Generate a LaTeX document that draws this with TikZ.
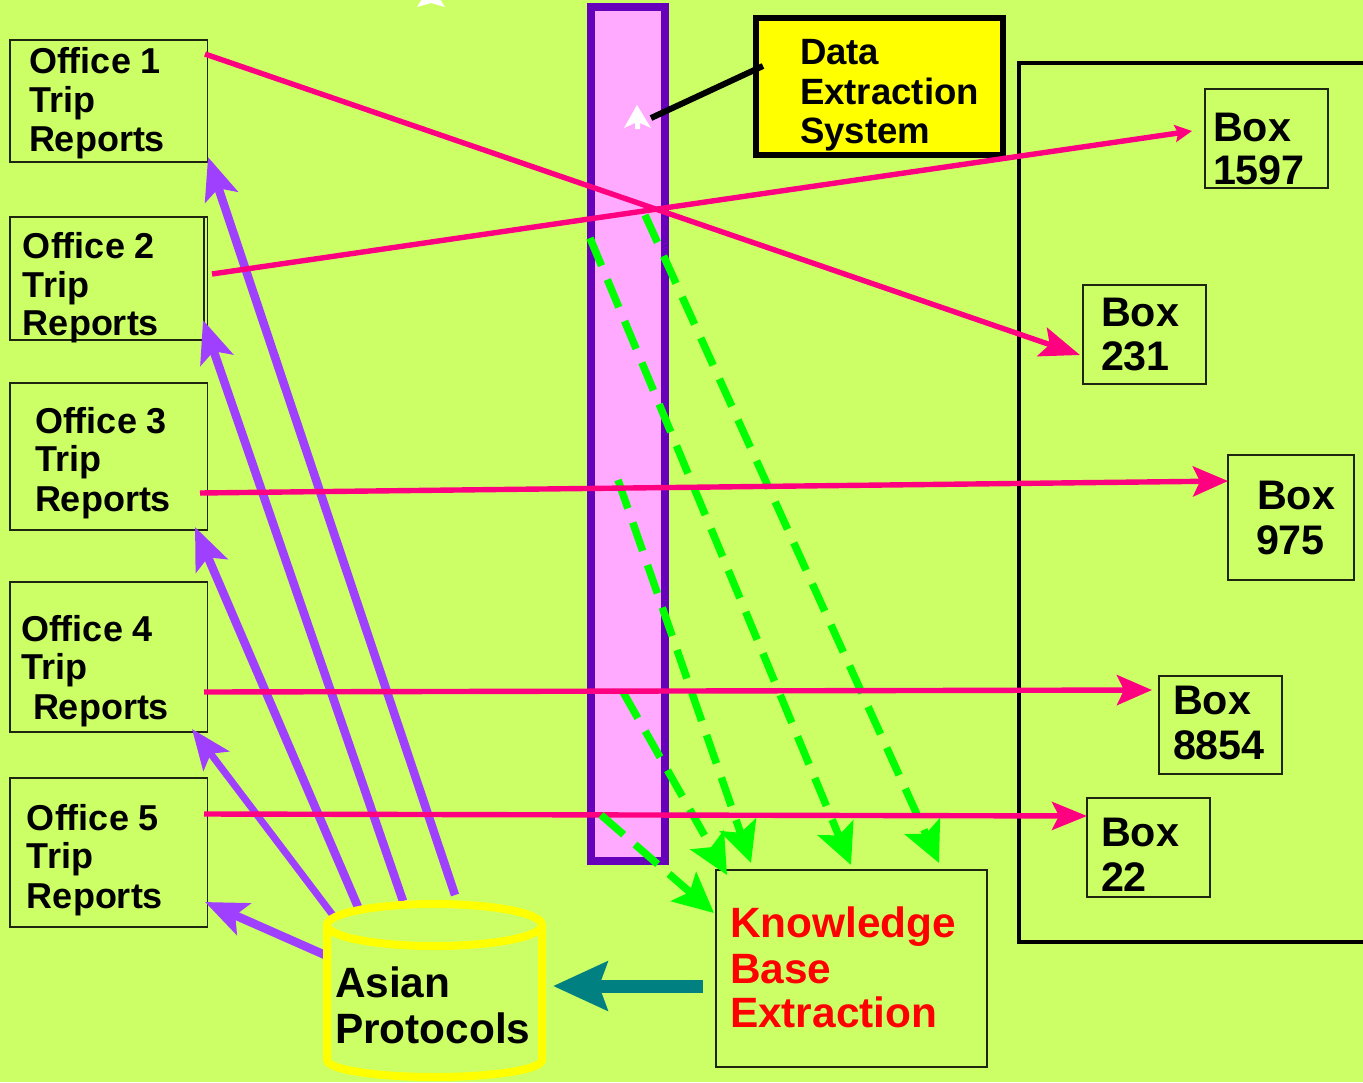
\documentclass[tikz,border=0pt]{standalone}
\usepackage{fontspec}
\setmainfont{Liberation Sans}
\usetikzlibrary{arrows.meta}
\definecolor{bgc}{HTML}{CCFF66}
\definecolor{barfill}{HTML}{FFAAFF}
\definecolor{barline}{HTML}{6600BB}
\definecolor{pinkc}{HTML}{FF0080}
\definecolor{purpc}{HTML}{A040FF}
\definecolor{greenc}{HTML}{00FF00}
\definecolor{tealc}{HTML}{008080}
\definecolor{yellowc}{HTML}{FFFF00}
\definecolor{redc}{HTML}{FF0000}
\tikzset{
  thinbox/.style={draw=black!85!bgc,line width=1.2pt,inner sep=0pt,outer sep=0pt},
  lbl/.style={anchor=base west,inner sep=0pt,outer sep=0pt,align=left,font=\bfseries\fontsize{#1}{#1}\selectfont},
  purp/.style={draw=purpc,line width=8.5pt,-{Stealth[length=42pt,width=34pt,inset=9pt]}},
  pinkar/.style={draw=pinkc,line width=5.4pt},
  greendash/.style={draw=greenc,line width=7.5pt,dash pattern=on 30pt off 15pt,-{Stealth[length=40pt,width=38pt,inset=8pt]}},
}
\newcommand{\rbox}[5]{\node[thinbox,minimum width={(#4)-(#2)},minimum height={(#5)-(#3)}] (#1) at ({((#2)+(#4))/2},{((#3)+(#5))/2}) {};}
\begin{document}
\begin{tikzpicture}[x=1pt,y=-1pt]
\useasboundingbox (0,0) rectangle (1363,1082);
\clip (0,0) rectangle (1363,1082);
\fill[bgc] (0,0) rectangle (1363,1082);
% large container
\node[draw=black,line width=4pt,inner sep=0pt,outer sep=0pt,minimum width=500pt,minimum height=879pt] (store) at (1269,502.5) {};
% bar
\node[draw=barline,fill=barfill,line width=8pt,inner sep=0pt,outer sep=0pt,minimum width=74pt,minimum height=854pt] (bar) at (628,434) {};
% white arrows
\fill[white] (431,-15) -- (445,7) -- (431,3) -- (417,7) -- cycle;
\fill[white] (637,105) -- (651,128) -- (640,123) -- (640,129) -- (635,129) -- (635,123) -- (624,128) -- cycle;
% office boxes
\rbox{office1}{10}{40}{207.5}{162}
\rbox{office2b}{10}{217}{207.5}{340}
\rbox{office2}{10}{217}{204}{340}
\rbox{office3}{10}{383}{207.5}{530}
\rbox{office4}{10}{582}{207.5}{732}
\rbox{office5}{10}{778}{207.5}{927}
% storage boxes
\rbox{b1597}{1205}{89}{1328}{188}
\rbox{b231}{1083}{285}{1206}{384}
\rbox{b975}{1228}{455}{1354}{580}
\rbox{b8854}{1159}{676}{1282}{774}
\rbox{b22}{1087}{798}{1210}{897}
\rbox{kbe}{716}{870}{987}{1067}
% data extraction box
\node[draw=black,fill=yellowc,line width=6pt,inner sep=0pt,outer sep=0pt,minimum width=247pt,minimum height=137pt] (des) at (879.5,86.5) {};
% connector ends
\coordinate (c0s) at (763,66); \coordinate (c0e) at (651,118);
\coordinate (g1s) at (645,215); \coordinate (g1e) at (939,863);
\coordinate (g2s) at (590,238); \coordinate (g2e) at (851,865);
\coordinate (g3s) at (618,480); \coordinate (g3e) at (751,863);
\coordinate (g4s) at (623,692); \coordinate (g4e) at (727,875);
\coordinate (g5s) at (601,815); \coordinate (g5e) at (714,913);
\coordinate (p1s) at (205,54);  \coordinate (p1e) at (1080,355);
\coordinate (p2s) at (212,274); \coordinate (p2e) at (1192,131);
\coordinate (p3s) at (200,493); \coordinate (p3e) at (1228,481);
\coordinate (p4s) at (204,692); \coordinate (p4e) at (1152,690);
\coordinate (p5s) at (204,814); \coordinate (p5e) at (1087,816);
\coordinate (a1s) at (455,895); \coordinate (a1e) at (208,157);
\coordinate (a2s) at (403,901); \coordinate (a2e) at (203,320);
\coordinate (a3s) at (358,907); \coordinate (a3e) at (195,527);
\coordinate (a4s) at (335,918); \coordinate (a4e) at (192,729);
\coordinate (a5s) at (325,955); \coordinate (a5e) at (205,902);
\coordinate (ts) at (703,986); \coordinate (te) at (553,986);
% connectors
\draw[black,line width=6pt] (c0s) -- (c0e);
\draw[purp] (a1s) -- (a1e);
\draw[purp] (a2s) -- (a2e);
\draw[purp] (a3s) -- (a3e);
\draw[purp,line width=7pt,-{Stealth[length=40pt,width=32pt,inset=9pt]}] (a4s) -- (a4e);
\draw[purp] (a5s) -- (a5e);
\draw[greendash] (g1s) -- (g1e);
\draw[greendash] (g2s) -- (g2e);
\draw[greendash] (g3s) -- (g3e);
\draw[greendash] (g4s) -- (g4e);
\draw[pinkar,-{Stealth[length=40pt,width=30pt,inset=8pt]}] (p1s) -- (p1e);
\draw[pinkar,-{Stealth[length=17pt,width=17pt,inset=3pt]}] (p2s) -- (p2e);
\draw[pinkar,-{Stealth[length=35pt,width=30pt,inset=7pt]}] (p3s) -- (p3e);
\draw[pinkar,-{Stealth[length=35pt,width=30pt,inset=7pt]}] (p4s) -- (p4e);
\draw[pinkar,-{Stealth[length=35pt,width=28pt,inset=7pt]}] (p5s) -- (p5e);
\draw[greendash] (g5s) -- (g5e);
\draw[tealc,line width=13pt,-{Stealth[length=54pt,width=48pt,inset=8pt]}] (ts) -- (te);
% cylinder
\draw[yellowc,line width=8pt,line join=round] (327,925) arc[start angle=180,end angle=360,x radius=107.5pt,y radius=21pt] (327,925) arc[start angle=180,end angle=0,x radius=107.5pt,y radius=21pt] -- (542,1060) arc[start angle=0,end angle=180,x radius=107.5pt,y radius=-17pt] -- cycle;
% labels
\node[lbl=36] (t1a) at (29,73) {Office 1};
\node[lbl=36] (t1b) at (29,112) {Trip};
\node[lbl=36] (t1c) at (29,151) {Reports};
\node[lbl=36] (t2a) at (23,258) {Office 2};
\node[lbl=36] (t2b) at (23,297) {Trip};
\node[lbl=36] (t2c) at (23,335) {Reports};
\node[lbl=36] (t3a) at (35,433) {Office 3};
\node[lbl=36] (t3b) at (35,471) {Trip};
\node[lbl=36] (t3c) at (35,511) {Reports};
\node[lbl=36] (t4a) at (21,641) {Office 4};
\node[lbl=36] (t4b) at (21,679) {Trip};
\node[lbl=36] (t4c) at (33,719) {Reports};
\node[lbl=36] (t5a) at (27,830) {Office 5};
\node[lbl=36] (t5b) at (27,868) {Trip};
\node[lbl=36] (t5c) at (27,908) {Reports};
\node[lbl=36.6] (d1) at (800,64) {Data};
\node[lbl=36.6] (d2) at (800,104) {Extraction};
\node[lbl=36.6] (d3) at (800,143) {System};
\node[lbl=41.3] (x1a) at (1213,141) {Box};
\node[lbl=41.3] (x1b) at (1213,184) {1597};
\node[lbl=41.3] (x2a) at (1101,326) {Box};
\node[lbl=41.3] (x2b) at (1101,370) {231};
\node[lbl=41.3] (x3a) at (1257,509) {Box};
\node[lbl=41.3] (x3b) at (1256,554) {975};
\node[lbl=41.3] (x4a) at (1173,714) {Box};
\node[lbl=41.3] (x4b) at (1173,759) {8854};
\node[lbl=41.3] (x5a) at (1101,846) {Box};
\node[lbl=41.3] (x5b) at (1101,891) {22};
\node[lbl=42.4,text=redc] (k1) at (730,937) {Knowledge};
\node[lbl=42.4,text=redc] (k2) at (730,983) {Base};
\node[lbl=42.4,text=redc] (k3) at (730,1027) {Extraction};
\node[lbl=42.4] (as1) at (335,997) {Asian};
\node[lbl=42.4] (as2) at (335,1043) {Protocols};
\end{tikzpicture}
\end{document}
